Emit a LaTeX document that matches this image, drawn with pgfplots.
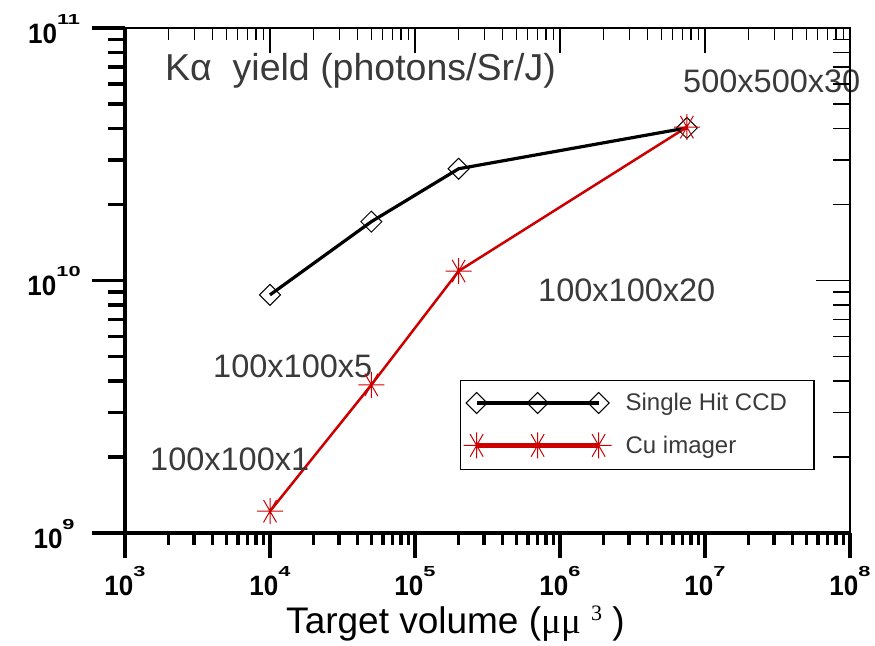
\documentclass[border=0pt]{standalone}
\usepackage{pgfplots}
\pgfplotsset{compat=1.18}
\usepackage{fontspec}
\setmainfont{Liberation Sans}
\newfontfamily\serifmu{Liberation Serif}

\definecolor{cured}{RGB}{204,0,0}
\definecolor{notegray}{RGB}{58,58,58}

% eight-spoke star used for the Cu imager series
\pgfdeclareplotmark{spoke}{%
  \pgfpathmoveto{\pgfqpoint{-\pgfplotmarksize}{0pt}}%
  \pgfpathlineto{\pgfqpoint{\pgfplotmarksize}{0pt}}%
  \pgfpathmoveto{\pgfqpoint{0pt}{-\pgfplotmarksize}}%
  \pgfpathlineto{\pgfqpoint{0pt}{\pgfplotmarksize}}%
  \pgfpathmoveto{\pgfqpoint{-0.5\pgfplotmarksize}{-0.866\pgfplotmarksize}}%
  \pgfpathlineto{\pgfqpoint{0.5\pgfplotmarksize}{0.866\pgfplotmarksize}}%
  \pgfpathmoveto{\pgfqpoint{0.5\pgfplotmarksize}{-0.866\pgfplotmarksize}}%
  \pgfpathlineto{\pgfqpoint{-0.5\pgfplotmarksize}{0.866\pgfplotmarksize}}%
  \pgfusepathqstroke}

% bold power-of-ten tick label with a wide superscript
\newcommand{\dec}[1]{{\fontsize{28bp}{30bp}\selectfont\bfseries
  \scalebox{0.93}[1]{10}\raisebox{19bp}{\fontsize{14.5bp}{15bp}\selectfont\bfseries\scalebox{1.5}[1]{#1}}}}

\pgfplotsset{
  every axis/.append style={
    scale only axis, width=725bp, height=505bp,
    at={(0,0)}, anchor=south west,
    xmin=1e3, xmax=1e8, ymin=1e9, ymax=1e11,
  },
  legend image code/.code={%
    \draw[mark repeat=1, #1, line width=4.5bp]
      plot coordinates {(0bp,0bp) (61bp,0bp) (122bp,0bp)};},
}

\begin{document}
\begin{tikzpicture}
\useasboundingbox (-125bp,-113bp) rectangle (750bp,533bp);

% thin frame with inward ticks along the top, data and annotations
\begin{loglogaxis}[
  clip=false,
  axis line style={line width=1.2bp, black},
  xtick pos=right,
  xtick={1e3,1e4,1e5,1e6,1e7,1e8},
  minor xtick={2e3,3e3,4e3,5e3,6e3,7e3,8e3,9e3,
               2e4,3e4,4e4,5e4,6e4,7e4,8e4,9e4,
               2e5,3e5,4e5,5e5,6e5,7e5,8e5,9e5,
               2e6,3e6,4e6,5e6,6e6,7e6,8e6,9e6,
               2e7,3e7,4e7,5e7,6e7,7e7,8e7,9e7},
  ytick=\empty,
  xticklabels={},
  tick align=inside,
  major tick length=25bp, minor tick length=12bp,
  tick style={line width=1.2bp, black},
  legend style={at={(rel axis cs:0.4621,0.303)}, anchor=north west,
    draw=black, line width=1.2bp, text=notegray,
    font=\fontsize{24bp}{28bp}\selectfont,
    inner xsep=3bp, inner ysep=11bp, row sep=18bp,
    /tikz/every odd column/.append style={column sep=12bp}},
  legend cell align=left,
]
\addplot[black, line width=3.2bp, mark=square,
  mark size=7.4bp, mark options={rotate=45, line width=1bp, fill=white, solid}]
  coordinates {(1e4,8.77e9) (5e4,1.71e10) (2e5,2.77e10) (7.5e6,4.02e10)};
\addlegendentry{Single Hit CCD\hspace*{22bp}}
\addplot[cured, line width=2.5bp, mark=spoke,
  mark size=13bp, mark options={line width=1bp, solid}]
  coordinates {(1e4,1.22e9) (5e4,3.86e9) (2e5,1.09e10) (7.5e6,4.05e10)};
\addlegendentry{Cu imager\rule[-22bp]{0pt}{1bp}}

\node[anchor=base west, inner sep=0pt, text=notegray,
  font=\fontsize{37.5bp}{42bp}\selectfont]
  at (rel axis cs:0.0552,0.895) {Kα\ \ yield (photons/Sr/J)};
\node[anchor=base west, inner sep=0pt, text=notegray,
  font=\fontsize{32.5bp}{36bp}\selectfont]
  at (rel axis cs:0.7697,0.8713) {500x500x30};
\node[anchor=base west, inner sep=0pt, text=notegray,
  font=\fontsize{32.5bp}{36bp}\selectfont]
  at (rel axis cs:0.5697,0.4574) {100x100x20};
\node[anchor=base west, inner sep=0pt, text=notegray,
  font=\fontsize{32.5bp}{36bp}\selectfont]
  at (rel axis cs:0.1214,0.3069) {100x100x5};
\node[anchor=base west, inner sep=0pt, text=notegray,
  font=\fontsize{32.5bp}{36bp}\selectfont]
  at (rel axis cs:0.0345,0.1228) {100x100x1};
\node[anchor=base west, inner sep=0pt, text=black,
  font=\fontsize{37bp}{42bp}\selectfont]
  at (rel axis cs:0.2221,-0.2) {Target volume ({\serifmu μμ}\ {\serifmu\raisebox{0.36em}{\fontsize{22bp}{22bp}\selectfont 3}} )};
\end{loglogaxis}

% inward ticks on the right edge
\begin{loglogaxis}[
  axis x line=none, axis y line*=right,
  axis line style={line width=1.2bp, black, -},
  xtick=\empty,
  ytick={1e9,1e10,1e11},
  minor ytick={2e9,3e9,4e9,5e9,6e9,7e9,8e9,9e9,
               2e10,3e10,4e10,5e10,6e10,7e10,8e10,9e10},
  yticklabels={},
  tick align=inside,
  major tick length=34bp, minor tick length=17bp,
  tick style={line width=1.2bp, black},
]
\end{loglogaxis}

% heavy bottom axis with outward ticks
\begin{loglogaxis}[
  axis y line=none, axis x line*=bottom,
  axis line style={line width=4bp, black, -},
  ytick=\empty,
  xtick={1e3,1e4,1e5,1e6,1e7,1e8},
  minor xtick={2e3,3e3,4e3,5e3,6e3,7e3,8e3,9e3,
               2e4,3e4,4e4,5e4,6e4,7e4,8e4,9e4,
               2e5,3e5,4e5,5e5,6e5,7e5,8e5,9e5,
               2e6,3e6,4e6,5e6,6e6,7e6,8e6,9e6,
               2e7,3e7,4e7,5e7,6e7,7e7,8e7,9e7},
  xticklabels={\dec{3},\dec{4},\dec{5},\dec{6},\dec{7},\dec{8}},
  xticklabel style={inner sep=0pt, yshift=-8bp},
  tick align=outside,
  major tick length=25bp, minor tick length=12bp,
  tick style={line width=3.5bp, black},
]
\end{loglogaxis}

% heavy left axis with outward ticks
\begin{loglogaxis}[
  axis x line=none, axis y line*=left,
  axis line style={line width=4bp, black, -},
  xtick=\empty,
  ytick={1e9,1e10,1e11},
  minor ytick={2e9,3e9,4e9,5e9,6e9,7e9,8e9,9e9,
               2e10,3e10,4e10,5e10,6e10,7e10,8e10,9e10},
  yticklabels={\dec{9},\dec{10},\dec{11}},
  yticklabel style={inner sep=0pt,
    anchor=center, xshift=-38bp, yshift=-1bp},
  tick align=outside,
  major tick length=33bp, minor tick length=17bp,
  tick style={line width=3.5bp, black},
]
\end{loglogaxis}
\end{tikzpicture}
\end{document}
